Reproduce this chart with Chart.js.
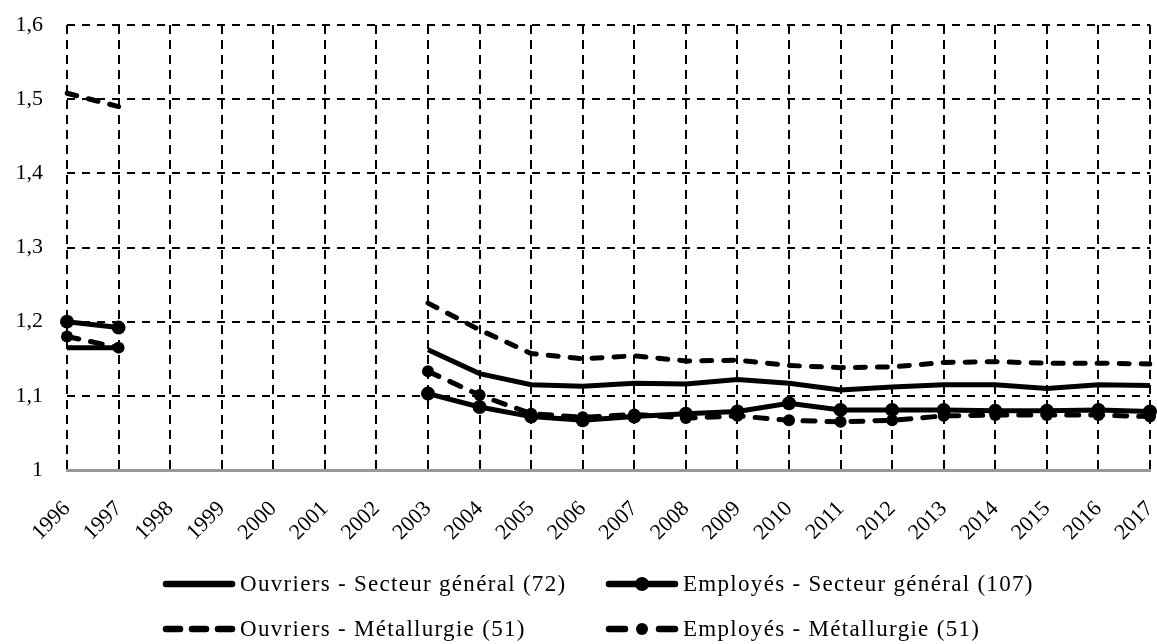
<!DOCTYPE html>
<html>
<head>
<meta charset="utf-8">
<script src="https://cdn.jsdelivr.net/npm/chart.js@4/dist/chart.umd.min.js"></script>
<style>
  html, body { margin: 0; padding: 0; background: #fff; }
  #wrap { width: 1157px; height: 644px; }
</style>
</head>
<body>
<div id="wrap"><canvas id="chart" width="1157" height="644"></canvas></div>
<script>
// years on the x axis
const years = ['1996','1997','1998','1999','2000','2001','2002','2003','2004','2005','2006',
  '2007','2008','2009','2010','2011','2012','2013','2014','2015','2016','2017'];

// series values (null = no data)
const ouvriersGeneral = [1.165, 1.165, null, null, null, null, null,
  1.162, 1.130, 1.115, 1.113, 1.117, 1.116, 1.122, 1.117, 1.108, 1.112, 1.115, 1.115, 1.110, 1.115, 1.114];
const employesGeneral = [1.200, 1.192, null, null, null, null, null,
  1.103, 1.085, 1.072, 1.067, 1.072, 1.076, 1.079, 1.090, 1.081, 1.081, 1.081, 1.080, 1.080, 1.081, 1.079];
const ouvriersMetal = [1.508, 1.490, null, null, null, null, null,
  1.225, 1.189, 1.157, 1.150, 1.154, 1.147, 1.148, 1.141, 1.138, 1.139, 1.145, 1.146, 1.144, 1.144, 1.143];
const employesMetal = [1.180, 1.165, null, null, null, null, null,
  1.133, 1.101, 1.076, 1.071, 1.075, 1.070, 1.073, 1.067, 1.065, 1.067, 1.073, 1.074, 1.074, 1.074, 1.072];

const seriesLabels = [
  'Ouvriers - Secteur général (72)',
  'Employés - Secteur général (107)',
  'Ouvriers - Métallurgie (51)',
  'Employés - Métallurgie (51)'
];

// y tick labels (french decimal comma)
const yTickLabels = ['1', '1,1', '1,2', '1,3', '1,4', '1,5', '1,6'];

const FONT = '"Liberation Serif", "Times New Roman", serif';
Chart.defaults.font.family = FONT;
Chart.defaults.color = '#000';

// legend drawn as a 2x2 grid under the axis
const gridLegend = {
  id: 'gridLegend',
  afterDraw(chart) {
    const ctx = chart.ctx;
    const cols = [163, 606];
    const rows = [584, 629];
    const len = 72;
    chart.data.datasets.forEach((ds, i) => {
      const x = cols[i % 2];
      const y = rows[Math.floor(i / 2)];
      ctx.save();
      ctx.strokeStyle = '#000';
      ctx.lineWidth = 6.5;
      ctx.lineCap = 'round';
      ctx.setLineDash(ds.legendDash || []);
      ctx.beginPath();
      ctx.moveTo(x + 3, y);
      ctx.lineTo(x + len - 3, y);
      ctx.stroke();
      if (ds.pointRadius > 0) {
        ctx.fillStyle = '#000';
        ctx.beginPath();
        ctx.arc(x + len / 2, y, ds.pointRadius, 0, Math.PI * 2);
        ctx.fill();
      }
      ctx.fillStyle = '#000';
      ctx.font = '23px ' + FONT;
      ctx.letterSpacing = '1.3px';
      ctx.textBaseline = 'middle';
      ctx.textAlign = 'left';
      ctx.fillText(ds.label, x + len + 5, y + 1);
      ctx.restore();
    });
  }
};

const ctx = document.getElementById('chart').getContext('2d');
const chart = new Chart(ctx, {
  type: 'line',
  data: {
    labels: years,
    datasets: [{
      label: seriesLabels[0],
      data: ouvriersGeneral,
      borderColor: '#000',
      borderWidth: 5,
      pointRadius: 0,
      legendDash: []
    }, {
      label: seriesLabels[1],
      data: employesGeneral,
      borderColor: '#000',
      backgroundColor: '#000',
      borderWidth: 5,
      pointRadius: 7,
      pointBorderWidth: 0,
      pointBackgroundColor: '#000',
      legendDash: []
    }, {
      label: seriesLabels[2],
      data: ouvriersMetal,
      borderColor: '#000',
      borderWidth: 5,
      borderDash: [10, 12],
      borderCapStyle: 'round',
      pointRadius: 0,
      legendDash: [14, 12]
    }, {
      label: seriesLabels[3],
      data: employesMetal,
      borderColor: '#000',
      backgroundColor: '#000',
      borderWidth: 5,
      borderDash: [12, 12],
      borderCapStyle: 'round',
      pointRadius: 6,
      pointBorderWidth: 0,
      pointBackgroundColor: '#000',
      legendDash: [16, 34]
    }]
  },
  options: {
    responsive: false,
    animation: false,
    devicePixelRatio: 1,
    tension: 0,
    layout: { padding: { top: 25, right: 5, bottom: 104, left: 0 } },
    plugins: {
      legend: { display: false },
      tooltip: { enabled: false }
    },
    scales: {
      x: {
        offset: false,
        grid: { color: '#000', lineWidth: 2, drawTicks: false },
        border: { display: true, color: '#999', width: 3, dash: [9, 6] },
        ticks: {
          autoSkip: false,
          maxRotation: 45,
          minRotation: 45,
          padding: 26,
          color: '#000',
          font: { size: 22, family: FONT }
        },
        afterFit(scale) {
          scale.height = 70;
          scale.paddingLeft = 0;
          scale.paddingRight = 0;
        }
      },
      y: {
        min: 1,
        max: 1.6,
        grid: {
          color: c => (c.index === 0 ? 'rgba(0,0,0,0)' : '#000'),
          lineWidth: 2,
          drawTicks: false
        },
        border: { display: false, dash: [8, 7] },
        ticks: {
          stepSize: 0.1,
          padding: 24,
          color: '#000',
          font: { size: 22, family: FONT },
          callback: (value, index) => yTickLabels[index]
        },
        afterFit(scale) {
          scale.width = 67;
          scale.paddingTop = 0;
          scale.paddingBottom = 0;
        }
      }
    }
  },
  plugins: [gridLegend]
});
</script>
</body>
</html>
